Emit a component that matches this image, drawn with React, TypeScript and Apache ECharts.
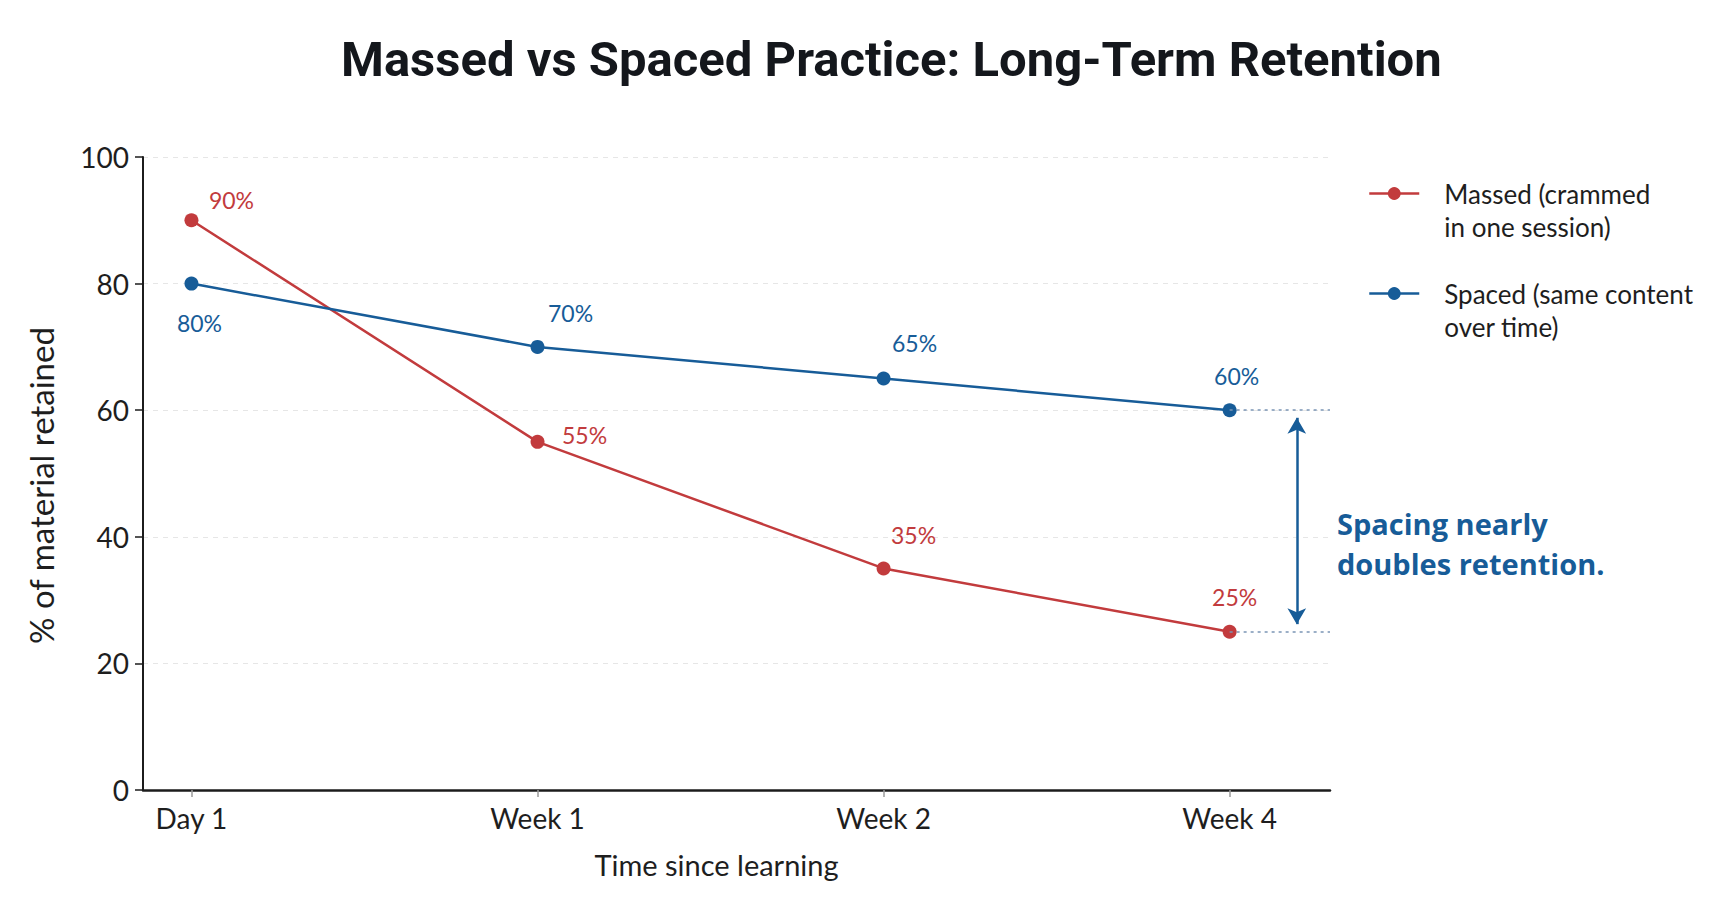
import React, { useEffect, useRef } from "react";
import * as echarts from "echarts";

// Time points and retention values (% of material retained)
const categories = ["Day 1", "Week 1", "Week 2", "Week 4"];
const massed = [90, 55, 35, 25];
const spaced = [80, 70, 65, 60];
const yTickValues = [0, 20, 40, 60, 80, 100];

const massedName = "Massed (crammed\nin one session)";
const spacedName = "Spaced (same content\nover time)";
const annotationText = "Spacing nearly\ndoubles retention.";

// Value-label offsets (px) relative to each point
const massedLabelOffsets = [[40, -20], [47, -7], [30, -33], [5, -35]];
const spacedLabelOffsets = [[8, 39], [33, -34], [31, -36], [7, -34]];

const RED = "#c23b3d";
const BLUE = "#175c98";
const FONT = "Lato, 'Open Sans', sans-serif";

const X_MIN = -0.14;
const X_MAX = 3.29;
const ARROW_X = 3.194;

export default function App() {
  const ref = useRef<HTMLDivElement>(null);

  useEffect(() => {
    if (!ref.current) return;
    const chart = echarts.init(ref.current, null, { renderer: "svg" });
    const last = categories.length - 1;

    const withOffsets = (offsets: number[][]) => (v: number, i: number) => ({
      value: [i, v],
      label: { offset: offsets[i] },
    });

    const valueLabel = (color: string) => ({
      show: true,
      position: "inside",
      formatter: (p: any) => `${p.value[1]}%`,
      fontFamily: FONT,
      fontSize: 23,
      color,
    });

    chart.setOption({
      animation: false,
      backgroundColor: "#ffffff",
      title: {
        text: "Massed vs Spaced Practice: Long-Term Retention",
        left: 336,
        top: 30,
        textStyle: { fontFamily: "Roboto, sans-serif", fontWeight: "bold", fontSize: 49, color: "#14171c" },
      },
      legend: {
        orient: "vertical",
        left: 1368,
        top: 144,
        padding: 0,
        itemGap: 1,
        itemWidth: 50,
        itemHeight: 16,
        lineStyle: { width: 2.5 },
        formatter: (name: string) => `\n${name}`,
        textStyle: {
          fontFamily: FONT,
          fontSize: 26,
          lineHeight: 33,
          color: "#1e1e1e",
          padding: [0, 0, 0, 20],
        },
        data: [massedName, spacedName],
      },
      grid: { left: 143, right: 400, top: 157, bottom: 119 },
      xAxis: {
        type: "value",
        min: X_MIN,
        max: X_MAX,
        name: "Time since learning",
        nameLocation: "middle",
        nameGap: 60,
        nameTextStyle: { fontFamily: FONT, fontSize: 29, color: "#1e1e1e", padding: [0, 40, 0, 0] },
        axisLine: { show: true, onZero: false, lineStyle: { color: "#1c1c1c", width: 2.5 } },
        axisTick: { show: true, customValues: categories.map((_, i) => i), length: 7, lineStyle: { color: "#9a9a9a", width: 1.5 } },
        axisLabel: {
          customValues: categories.map((_, i) => i),
          formatter: (v: number) => categories[Math.round(v)] ?? "",
          fontFamily: FONT,
          fontSize: 28,
          color: "#1e1e1e",
          margin: 14,
        },
        splitLine: { show: false },
      },
      yAxis: {
        type: "value",
        min: 0,
        max: 100,
        interval: 20,
        name: "% of material retained",
        nameLocation: "middle",
        nameGap: 86,
        nameTextStyle: { fontFamily: FONT, fontSize: 33, color: "#1e1e1e", padding: [0, 24, 0, 0] },
        axisLine: { show: true, onZero: false, lineStyle: { color: "#1c1c1c", width: 2 } },
        axisTick: { show: true, length: 8, lineStyle: { color: "#1c1c1c", width: 1.5 } },
        axisLabel: {
          fontFamily: FONT,
          fontSize: 28,
          color: "#1e1e1e",
          margin: 14,
          formatter: (v: number) => (yTickValues.includes(v) ? String(v) : ""),
        },
        splitLine: { show: true, lineStyle: { color: "#e6e6e6", type: [5, 5], width: 1.2 } },
      },
      series: [
        {
          name: massedName,
          type: "line",
          data: massed.map(withOffsets(massedLabelOffsets)),
          symbol: "circle",
          symbolSize: 14,
          lineStyle: { color: RED, width: 2.5 },
          itemStyle: { color: RED },
          label: valueLabel(RED),
          markLine: {
            silent: true,
            symbol: ["none", "none"],
            label: { show: false },
            lineStyle: { color: "#7b95b5", type: [3, 4], width: 1.5 },
            data: [[{ coord: [last, massed[last]] }, { coord: [X_MAX, massed[last]] }]],
          },
          z: 3,
        },
        {
          name: spacedName,
          type: "line",
          data: spaced.map(withOffsets(spacedLabelOffsets)),
          symbol: "circle",
          symbolSize: 14,
          lineStyle: { color: BLUE, width: 2.5 },
          itemStyle: { color: BLUE },
          label: valueLabel(BLUE),
          markLine: {
            silent: true,
            symbol: ["none", "none"],
            label: { show: false },
            lineStyle: { color: "#7b95b5", type: [3, 4], width: 1.5 },
            data: [
              [{ coord: [last, spaced[last]] }, { coord: [X_MAX, spaced[last]] }],
              [
                {
                  coord: [ARROW_X, spaced[last] - 1.2],
                  symbol: "arrow",
                  symbolSize: [14, 16],
                  lineStyle: { color: BLUE, type: "solid", width: 2.5 },
                },
                { coord: [ARROW_X, massed[last] + 1.2], symbol: "arrow", symbolSize: [14, 16] },
              ],
            ],
          },
          z: 3,
        },
      ],
      graphic: [
        {
          type: "text",
          left: 1337,
          top: 503,
          style: {
            text: annotationText,
            font: `bold 29px 'Open Sans', Lato, sans-serif`,
            lineHeight: 40,
            fill: BLUE,
          },
        },
      ],
    });

    return () => chart.dispose();
  }, []);

  return <div ref={ref} style={{ width: 1730, height: 909, margin: -8 }} />;
}
